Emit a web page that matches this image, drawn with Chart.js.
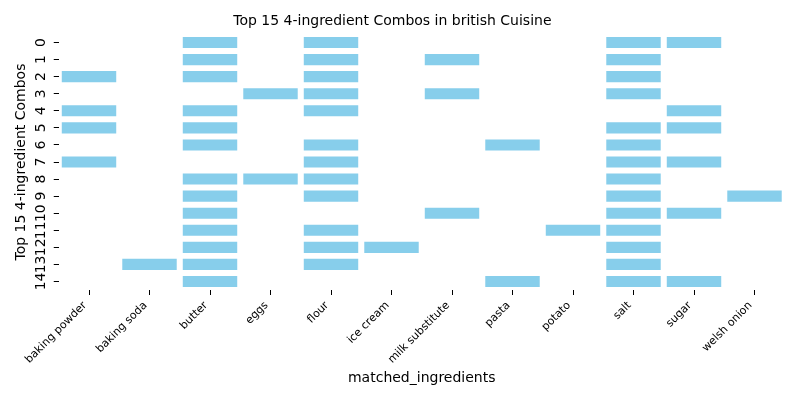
<!DOCTYPE html>
<html>
<head>
<meta charset="utf-8">
<script src="https://cdn.jsdelivr.net/npm/chart.js@4"></script>
<style>
  html, body { margin: 0; padding: 0; background: #fff; }
  #wrap { width: 800px; height: 400px; }
</style>
</head>
<body>
<div id="wrap"><canvas id="c" width="800" height="400"></canvas></div>
<script>
// ---- data ----
const ingredients = ['baking powder', 'baking soda', 'butter', 'eggs', 'flour', 'ice cream',
  'milk substitute', 'pasta', 'potato', 'salt', 'sugar', 'welsh onion'];
const comboLabels = ['0', '1', '2', '3', '4', '5', '6', '7', '8', '9', '10', '11', '12', '13', '14'];
const combos = [
  ['butter', 'flour', 'salt', 'sugar'],
  ['butter', 'flour', 'milk substitute', 'salt'],
  ['baking powder', 'butter', 'flour', 'salt'],
  ['eggs', 'flour', 'milk substitute', 'salt'],
  ['baking powder', 'butter', 'flour', 'sugar'],
  ['baking powder', 'butter', 'salt', 'sugar'],
  ['butter', 'flour', 'pasta', 'salt'],
  ['baking powder', 'flour', 'salt', 'sugar'],
  ['butter', 'eggs', 'flour', 'salt'],
  ['butter', 'flour', 'salt', 'welsh onion'],
  ['butter', 'milk substitute', 'salt', 'sugar'],
  ['butter', 'flour', 'potato', 'salt'],
  ['butter', 'flour', 'ice cream', 'salt'],
  ['baking soda', 'butter', 'flour', 'salt'],
  ['butter', 'pasta', 'salt', 'sugar']
];
const titleText = 'Top 15 4-ingredient Combos in british Cuisine';
const xTitle = 'matched_ingredients';
const yTitle = 'Top 15 4-ingredient Combos';

// ---- build datasets (one per ingredient column) ----
const HALF = 0.45;
const datasets = ingredients.map((ing, c) => ({
  label: ing,
  data: combos.map(row => row.includes(ing) ? [c - HALF, c + HALF] : null),
  backgroundColor: '#87CEEB',
  borderWidth: 0,
  grouped: false,
  categoryPercentage: 1,
  barPercentage: 0.65
}));

Chart.defaults.font.family = "'DejaVu Sans', sans-serif";
Chart.defaults.color = '#000';

new Chart(document.getElementById('c'), {
  type: 'bar',
  data: { labels: comboLabels, datasets },
  options: {
    indexAxis: 'y',
    responsive: false,
    animation: false,
    layout: { padding: { left: 0, right: 15.25, top: 0, bottom: 0 } },
    plugins: {
      legend: { display: false },
      tooltip: { enabled: false },
      title: {
        display: true,
        text: titleText,
        font: { size: 14, weight: 'normal' },
        color: '#000',
        padding: { top: 13.4, bottom: 3.8 }
      }
    },
    scales: {
      x: {
        type: 'linear',
        min: -0.5,
        max: 11.5,
        afterBuildTicks: s => { s.ticks = ingredients.map((_, i) => ({ value: i })); },
        afterFit: s => { s.height = 110; },
        border: { display: false },
        grid: { drawOnChartArea: false, drawTicks: true, tickLength: 5, color: '#000', lineWidth: 1 },
        ticks: {
          autoSkip: false,
          minRotation: 45,
          maxRotation: 45,
          padding: 4,
          labelOffset: -4,
          font: { size: 11 },
          color: '#000',
          callback: v => ingredients[v]
        },
        title: {
          display: true,
          text: xTitle,
          font: { size: 14 },
          color: '#000',
          padding: { top: 0, bottom: 13.3 }
        }
      },
      y: {
        type: 'category',
        offset: true,
        afterFit: s => { s.width = 58.75; },
        border: { display: false },
        grid: { offset: false, drawOnChartArea: false, drawTicks: true, tickLength: 5, color: '#000', lineWidth: 1 },
        ticks: {
          autoSkip: false,
          minRotation: 90,
          maxRotation: 90,
          crossAlign: 'center',
          padding: 3,
          font: { size: 14 },
          color: '#000'
        },
        title: {
          display: true,
          text: yTitle,
          font: { size: 14 },
          color: '#000',
          padding: { top: 12.6, bottom: 0 }
        }
      }
    }
  }
});
</script>
</body>
</html>
